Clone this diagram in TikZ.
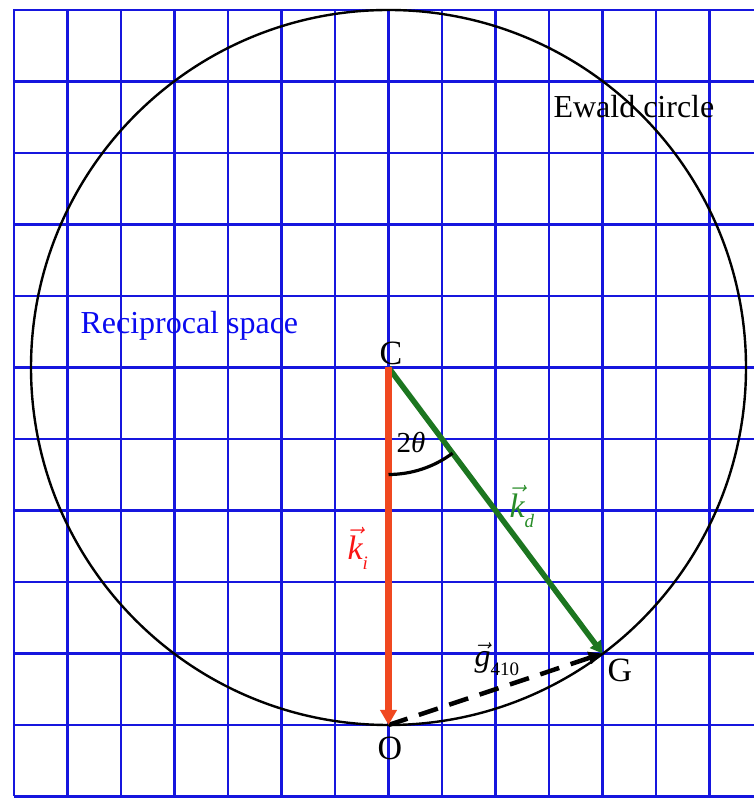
\RequirePackage{fix-cm}
\documentclass[tikz,border=0pt]{standalone}
\usepackage{fontspec}
\setmainfont{Liberation Serif}
\usetikzlibrary{arrows.meta, calc}
\definecolor{cgrid}{RGB}{22,22,222}
\definecolor{cred}{RGB}{240,72,32}
\definecolor{clabred}{RGB}{250,20,20}
\definecolor{cgreen}{RGB}{28,118,32}
\definecolor{clabgreen}{RGB}{40,140,40}
\definecolor{cspace}{RGB}{10,10,240}
\newcommand{\vecsym}[2]{$\vec{\mbox{\itshape #1}}$\raisebox{-0.28em}{\fontsize{19}{21}\selectfont #2}}
\tikzset{
  every picture/.style={x=1pt, y=1pt, line width=1pt},
  gridline/.style={draw=cgrid, line width=2.6pt},
  ewald/.style={draw=black, line width=2.4pt},
  kiline/.style={-{Triangle[length=15pt, width=16pt]}, draw=cred, fill=cred, line width=7pt},
  kdline/.style={-{Triangle[length=12pt, width=13pt]}, draw=cgreen, fill=cgreen, line width=5.5pt},
  gline/.style={-{Triangle[length=14pt, width=12pt]}, draw=black, line width=4.5pt, dash pattern=on 20pt off 12pt},
  anglearc/.style={draw=black, line width=3.2pt},
  ptlabel/.style={font=\fontsize{34}{40}\selectfont, inner sep=0pt, anchor=base},
  note/.style={font=\fontsize{32}{38}\selectfont, inner sep=0pt, anchor=base west},
  veclabel/.style={font=\fontsize{34}{40}\selectfont, inner sep=0pt, anchor=base west},
}
\begin{document}
\begin{tikzpicture}
  \useasboundingbox (0,0) rectangle (754,799);
  % reciprocal lattice
  \begin{scope}[shift={(14,2.5)}]
    \draw[gridline] (0,0) grid[xstep=53.5, ystep=71.5] (740,787);
  \end{scope}
  \coordinate (C) at (388.5,431.5);
  \coordinate (O) at (388.5,74);
  \coordinate (G) at (602.5,145.5);
  \draw[ewald] (C) circle[radius=357.5];
  \node[note] (ewaldlab) at (553,681) {Ewald circle};
  \node[note, text=cspace] (spacelab) at (80,465) {Reciprocal space};
  % wave vectors
  \draw[gline] (O) -- (G);
  \draw[kdline] (C) -- (G);
  \draw[kiline] (C) -- (O);
  \draw[anglearc] (C) ++(-90:107) arc[start angle=-90, end angle=-53.2, radius=107];
  \node[ptlabel] (Clab) at ($(C)+(2.5,2.5)$) {C};
  \node[ptlabel] (Olab) at ($(O)+(1.5,-35)$) {O};
  \node[ptlabel] (Glab) at ($(G)+(17.5,-28.5)$) {G};
  \node[veclabel, font=\fontsize{29}{34}\selectfont] (thetalab) at (396,346) {2\textit{θ}};
  \node[veclabel, text=clabred] (kilab) at (347,239) {\vecsym{k}{\itshape i}};
  \node[veclabel, text=clabgreen] (kdlab) at (509,281) {\vecsym{k}{\itshape d}};
  \node[veclabel, font=\fontsize{32}{38}\selectfont] (glab) at (474,132) {\vecsym{g}{410}};
\end{tikzpicture}
\end{document}
